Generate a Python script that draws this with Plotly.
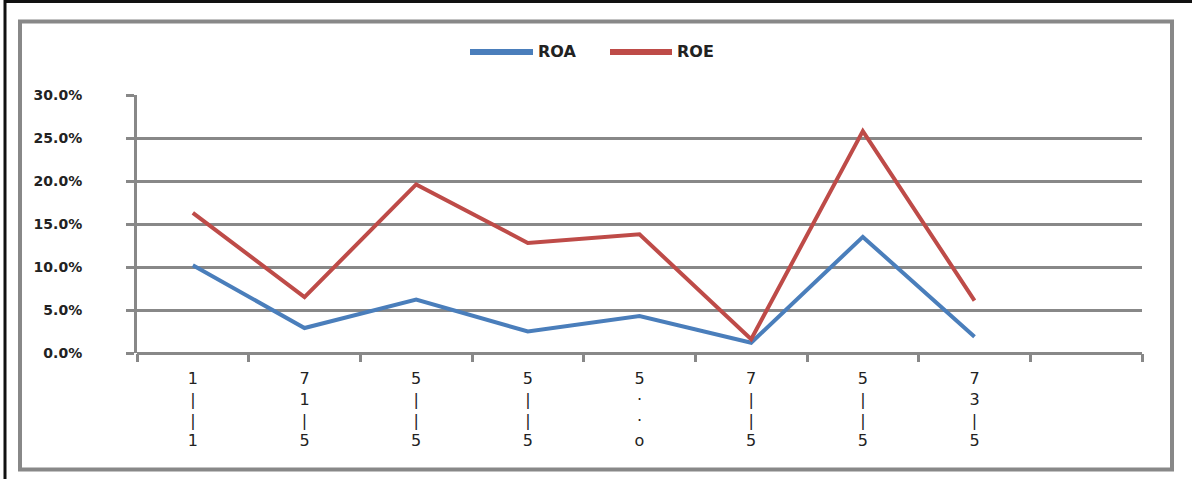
import plotly.graph_objects as go

categories = ["c1", "c2", "c3", "c4", "c5", "c6", "c7", "c8", "c9"]
tick_labels = [
    "1<br>|<br>|<br>1",
    "7<br>1<br>|<br>5",
    "5<br>|<br>|<br>5",
    "5<br>|<br>|<br>5",
    "5<br>·<br>·<br>o",
    "7<br>|<br>|<br>5",
    "5<br>|<br>|<br>5",
    "7<br>3<br>|<br>5",
    "",
]
roa = [10.2, 2.9, 6.2, 2.5, 4.3, 1.2, 13.5, 1.9]
roe = [16.3, 6.5, 19.6, 12.8, 13.8, 1.6, 25.8, 6.1]

ROA_COLOR = "#4a7ebb"
ROE_COLOR = "#be4b48"
GRID = "#888888"
TEXT = "#222222"

W, H = 1192, 479
L, R, T, B = 137, 1142, 95, 353

def px_x(p):
    return (p - L) / (R - L)

def px_y(p):
    return (B - p) / (B - T)

fig = go.Figure()
fig.add_trace(go.Scatter(x=categories[:len(roa)], y=[v / 100 for v in roa], mode="lines",
                         name="ROA", line=dict(color=ROA_COLOR, width=4), showlegend=False))
fig.add_trace(go.Scatter(x=categories[:len(roe)], y=[v / 100 for v in roe], mode="lines",
                         name="ROE", line=dict(color=ROE_COLOR, width=4), showlegend=False))

shapes = [
    # outer black frame
    dict(type="rect", xref="paper", yref="paper",
         x0=px_x(5), x1=px_x(1195), y0=px_y(482), y1=px_y(1.5),
         line=dict(color="#111111", width=3), fillcolor="rgba(0,0,0,0)", layer="below"),
    # inner gray frame
    dict(type="rect", xref="paper", yref="paper",
         x0=px_x(20), x1=px_x(1172), y0=px_y(469.5), y1=px_y(21.5),
         line=dict(color=GRID, width=4), fillcolor="rgba(0,0,0,0)", layer="below"),
    # legend lines
    dict(type="line", xref="paper", yref="paper",
         x0=px_x(470), x1=px_x(533), y0=px_y(52), y1=px_y(52),
         line=dict(color=ROA_COLOR, width=6)),
    dict(type="line", xref="paper", yref="paper",
         x0=px_x(610), x1=px_x(672), y0=px_y(52), y1=px_y(52),
         line=dict(color=ROE_COLOR, width=6)),
]

annotations = [
    dict(text="<b>ROA</b>", xref="paper", yref="paper", x=px_x(536), y=px_y(52),
         xanchor="left", yanchor="middle", showarrow=False,
         font=dict(family="DejaVu Sans", size=16, color=TEXT)),
    dict(text="<b>ROE</b>", xref="paper", yref="paper", x=px_x(675), y=px_y(52),
         xanchor="left", yanchor="middle", showarrow=False,
         font=dict(family="DejaVu Sans", size=16, color=TEXT)),
]

fig.update_layout(
    width=W, height=H,
    margin=dict(l=L, r=W - R, t=T, b=H - B),
    paper_bgcolor="white", plot_bgcolor="white",
    shapes=shapes, annotations=annotations,
    xaxis=dict(
        type="category", categoryorder="array", categoryarray=categories,
        tickmode="array", tickvals=categories, ticktext=tick_labels,
        range=[-0.5, len(categories) - 0.5],
        tickson="boundaries", ticks="outside", ticklen=8, tickwidth=3, tickcolor=GRID,
        showgrid=False, showline=False, zeroline=False,
        tickfont=dict(family="DejaVu Sans", size=16, color=TEXT),
        ticklabelstandoff=14,
    ),
    yaxis=dict(
        range=[0, 0.30], tickmode="array",
        tickvals=[0, 0.05, 0.10, 0.15, 0.20, 0.25, 0.30],
        ticktext=["<b>0.0%</b>", "<b>5.0%</b>", "<b>10.0%</b>", "<b>15.0%</b>",
                  "<b>20.0%</b>", "<b>25.0%</b>", "<b>30.0%</b>"],
        showgrid=True, gridcolor=GRID, gridwidth=3,
        zeroline=True, zerolinecolor=GRID, zerolinewidth=3,
        showline=True, linecolor=GRID, linewidth=3,
        ticks="outside", ticklen=8, tickwidth=3, tickcolor=GRID,
        tickfont=dict(family="DejaVu Sans", size=14, color=TEXT),
        ticklabelstandoff=41,
    ),
)

fig.write_html("out.html", config={"displayModeBar": False},
               post_script="document.body.style.margin='0';")
